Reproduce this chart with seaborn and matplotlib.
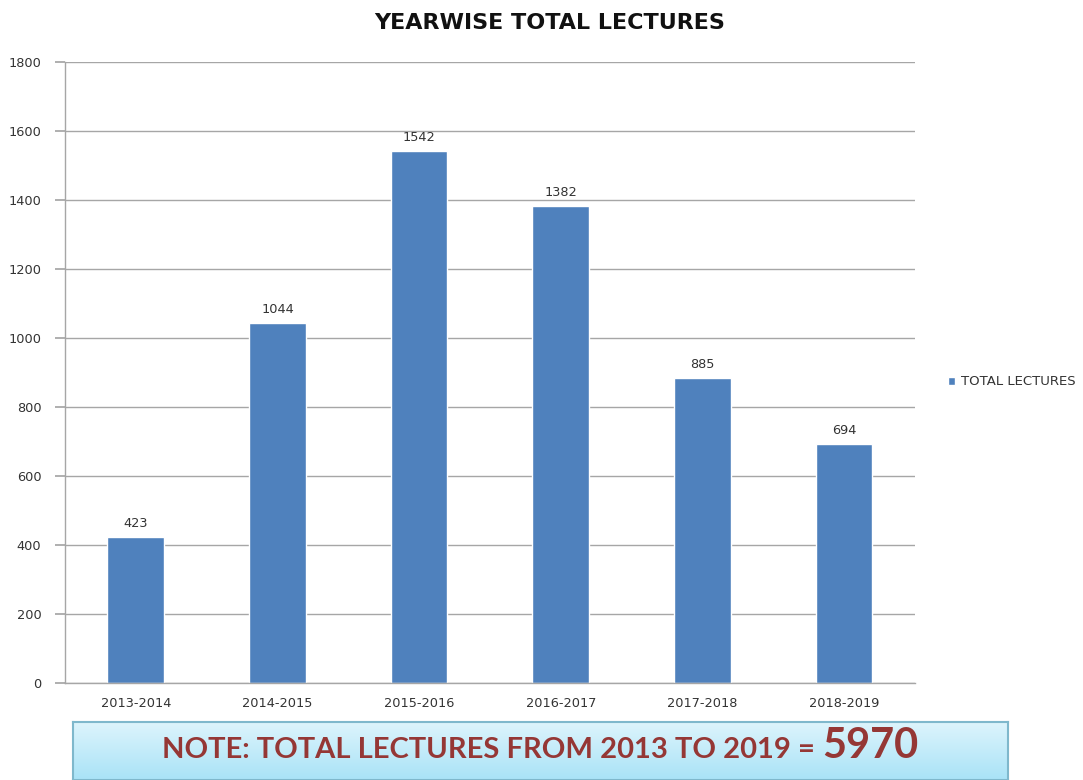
import matplotlib
matplotlib.use("Agg")
import matplotlib.pyplot as plt
import seaborn as sns
import numpy as np
import pandas as pd
from matplotlib.colors import LinearSegmentedColormap

years = ["2013-2014", "2014-2015", "2015-2016", "2016-2017", "2017-2018", "2018-2019"]
lectures = [423, 1044, 1542, 1382, 885, 694]
series_name = "TOTAL LECTURES"
title = "YEARWISE TOTAL LECTURES"
note_main = "NOTE: TOTAL LECTURES FROM 2013 TO 2019 = "
note_total = "5970"

sns.set_theme(style="white")
plt.rcParams['font.family'] = ['DejaVu Sans']

df = pd.DataFrame({"year": years, "value": lectures, "series": series_name})

fig = plt.figure(figsize=(10.83, 7.8), dpi=100)
ax = fig.add_axes([65/1083, 1-683/780, (915-65)/1083, (683-62)/780])

sns.barplot(data=df, x="year", y="value", hue="series", palette=["#4F81BD"],
            width=0.4, saturation=1, ax=ax, legend=True)

ax.set_ylim(0, 1800)
ax.set_yticks(np.arange(0, 1801, 200))
ax.yaxis.grid(True, color="#A6A6A6", linewidth=1)
ax.set_axisbelow(True)
for s in ["top", "right"]:
    ax.spines[s].set_visible(False)
for s in ["left", "bottom"]:
    ax.spines[s].set_color("#A6A6A6")
    ax.spines[s].set_linewidth(1)
ax.tick_params(axis="y", left=True, length=7, color="#A6A6A6", labelsize=9.3, pad=10, labelcolor="#333333")
ax.tick_params(axis="x", bottom=True, length=0, labelsize=9.3, pad=10, labelcolor="#333333")
ax.set_xlabel("")
ax.set_ylabel("")

for c in ax.containers:
    ax.bar_label(c, fmt="%d", padding=5, fontsize=9.3, color="#333333")

leg = ax.legend(loc="center left", bbox_to_anchor=(1.025, 0.485), frameon=False,
                fontsize=9.5, handlelength=0.55, handleheight=0.55, handletextpad=0.4)
for t in leg.get_texts():
    t.set_color("#333333")

fig.text(550/1083, 1-23/780, title, ha="center", va="center", fontsize=16,
         fontweight="bold", color="#111111")

# note box
nax = fig.add_axes([73/1083, 0, (1008-73)/1083, (780-722)/780])
grad = np.linspace(0, 1, 100).reshape(-1, 1)
cmap = LinearSegmentedColormap.from_list("g", ["#DDF4FC", "#A9E3F7"])
nax.imshow(grad, aspect="auto", cmap=cmap, extent=[0, 1, 0, 1], origin="upper")
nax.set_xticks([])
nax.set_yticks([])
for s in nax.spines.values():
    s.set_color("#7FB8CC")
    s.set_linewidth(1.5)
split = (822 - 73) / 935
nax.text(split, 0.38, note_main, ha="right", va="baseline", fontsize=21,
         fontweight="bold", color="#953735", transform=nax.transAxes,
         family=["Lato", "DejaVu Sans"])
nax.text(split, 0.38, note_total, ha="left", va="baseline", fontsize=30,
         fontweight="bold", color="#953735", transform=nax.transAxes,
         family=["Lato", "DejaVu Sans"])

fig.savefig("out.png", dpi=100)
